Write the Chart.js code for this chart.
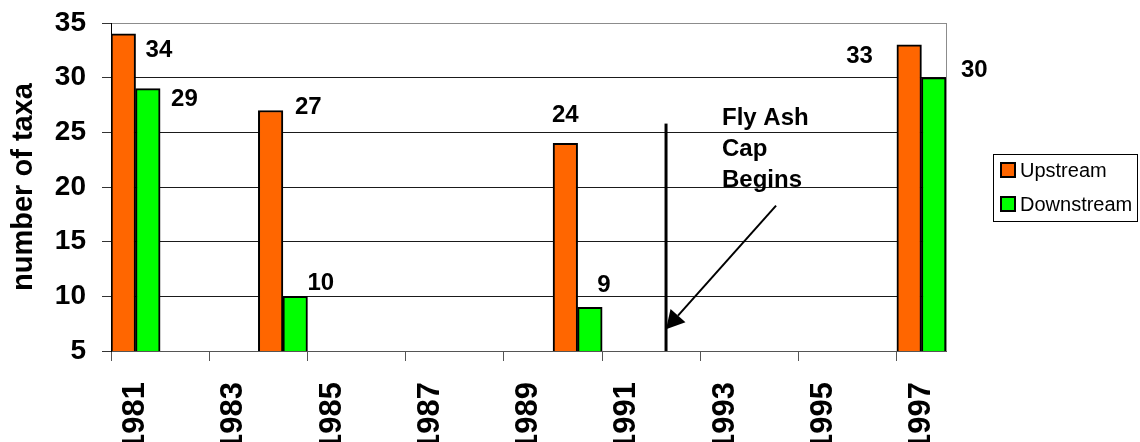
<!DOCTYPE html>
<html>
<head>
<meta charset="utf-8">
<script src="https://cdn.jsdelivr.net/npm/chart.js@4/dist/chart.umd.min.js"></script>
<style>
  html, body { margin: 0; padding: 0; background: #fff; }
  #wrap { width: 1140px; height: 442px; position: relative; }
</style>
</head>
<body>
<div id="wrap"><canvas id="c" width="1140" height="442"></canvas></div>
<script>
// Sampling years (one category per year)
const years = ['1981','1982','1983','1984','1985','1986','1987','1988','1989',
               '1990','1991','1992','1993','1994','1995','1996','1997'];
// Number of taxa found at each station
const upstream   = [34, null, null, 27, null, null, null, null, null, 24, null, null, null, null, null, null, 33];
const downstream = [29, null, null, 10, null, null, null, null, null,  9, null, null, null, null, null, null, 30];
const seriesNames = ['Upstream', 'Downstream'];
const yTicks = [5, 10, 15, 20, 25, 30, 35];

// Fly ash cap annotation (year position, value extent)
const capYear = 1992.3;
const capLineTop = 25.8;
const capText = ['Fly Ash', 'Cap', 'Begins'];

const FONT = '"Liberation Sans", Arial, sans-serif';
const ORANGE = '#FF6600';
const GREEN = '#00FF00';

// Per-label placement relative to its bar: [dx, dy, anchor]
const upLabelPlace = {
  0: [10, 23, 'left'], 3: [12, 4, 'left'], 9: [0, -21, 'center'], 16: [-24, 18, 'rightOfLeft']
};
const downLabelPlace = {
  0: [11, 17, 'left'], 3: [0, -6, 'left'], 9: [-5, -15, 'left'], 16: [15, -1, 'left']
};

// Convert a fractional year into a pixel on the category axis
function yearToPixel(xs, year) {
  const base = Math.floor(year);
  const idx = years.indexOf(String(base));
  const w = xs.getPixelForValue(1) - xs.getPixelForValue(0);
  const left = xs.getPixelForValue(idx) - w / 2;
  return left + (year - base) * w;
}

const decorations = {
  id: 'decorations',
  afterDatasetsDraw(chart) {
    const ctx = chart.ctx;
    const area = chart.chartArea;
    const xs = chart.scales.x, ys = chart.scales.y;

    // Right border of the plot
    ctx.save();
    ctx.strokeStyle = '#8c8c8c';
    ctx.lineWidth = 1;
    ctx.beginPath();
    ctx.moveTo(Math.round(area.right) + 0.5, area.top);
    ctx.lineTo(Math.round(area.right) + 0.5, area.bottom);
    ctx.stroke();
    ctx.restore();

    // Value labels
    ctx.save();
    ctx.fillStyle = '#000';
    ctx.font = 'bold 24px ' + FONT;
    ctx.textBaseline = 'alphabetic';
    const drawLabels = (dsIndex, values, place) => {
      const meta = chart.getDatasetMeta(dsIndex);
      values.forEach((v, i) => {
        if (v === null || !place[i]) return;
        const bar = meta.data[i];
        const half = bar.width / 2;
        const [dx, dy, anchor] = place[i];
        const txt = String(v);
        let x;
        if (anchor === 'center') { ctx.textAlign = 'center'; x = bar.x + dx; }
        else if (anchor === 'rightOfLeft') { ctx.textAlign = 'right'; x = bar.x - half + dx; }
        else { ctx.textAlign = 'left'; x = bar.x + half + dx; }
        ctx.fillText(txt, x, bar.y + dy);
      });
    };
    drawLabels(0, upstream, upLabelPlace);
    drawLabels(1, downstream, downLabelPlace);
    ctx.restore();

    // Fly ash cap line
    const lx = yearToPixel(xs, capYear);
    ctx.save();
    ctx.strokeStyle = '#000';
    ctx.lineWidth = 3;
    ctx.beginPath();
    ctx.moveTo(lx, ys.getPixelForValue(capLineTop));
    ctx.lineTo(lx, area.bottom);
    ctx.stroke();

    // Arrow pointing at the line
    const ax0 = yearToPixel(xs, 1994.54), ay0 = ys.getPixelForValue(18.3);
    const ax1 = lx, ay1 = ys.getPixelForValue(7.0);
    const ang = Math.atan2(ay1 - ay0, ax1 - ax0);
    const headLen = 18, headHalf = 10;
    const bx = ax1 - headLen * Math.cos(ang), by = ay1 - headLen * Math.sin(ang);
    ctx.lineWidth = 2;
    ctx.beginPath();
    ctx.moveTo(ax0, ay0);
    ctx.lineTo(bx, by);
    ctx.stroke();
    ctx.fillStyle = '#000';
    ctx.beginPath();
    ctx.moveTo(ax1, ay1);
    ctx.lineTo(bx + headHalf * Math.sin(ang), by - headHalf * Math.cos(ang));
    ctx.lineTo(bx - headHalf * Math.sin(ang), by + headHalf * Math.cos(ang));
    ctx.closePath();
    ctx.fill();

    // Annotation text
    ctx.font = 'bold 24px ' + FONT;
    ctx.textAlign = 'left';
    ctx.textBaseline = 'alphabetic';
    const tx = yearToPixel(xs, 1993.44);
    const ty0 = ys.getPixelForValue(25.8) + 1;
    capText.forEach((t, i) => ctx.fillText(t, tx, ty0 + i * 31));
    ctx.restore();

    // Legend box
    ctx.save();
    const lgX = 993.5, lgY = 154.5, lgW = 144, lgH = 67;
    ctx.strokeStyle = '#000';
    ctx.lineWidth = 1;
    ctx.strokeRect(lgX, lgY, lgW, lgH);
    const swatchColors = [ORANGE, GREEN];
    ctx.font = '20px ' + FONT;
    ctx.textAlign = 'left';
    ctx.textBaseline = 'middle';
    seriesNames.forEach((name, i) => {
      const sy = 163 + i * 34;
      ctx.fillStyle = swatchColors[i];
      ctx.fillRect(1001, sy, 14, 14);
      ctx.lineWidth = 2;
      ctx.strokeStyle = '#000';
      ctx.strokeRect(1001, sy, 14, 14);
      ctx.fillStyle = '#000';
      ctx.fillText(name, 1020, sy + 8);
    });
    ctx.restore();
  }
};

new Chart(document.getElementById('c'), {
  type: 'bar',
  data: {
    labels: years,
    datasets: [
      { label: seriesNames[0], data: upstream, backgroundColor: ORANGE,
        borderColor: '#000', borderWidth: 2, borderSkipped: false },
      { label: seriesNames[1], data: downstream, backgroundColor: GREEN,
        borderColor: '#000', borderWidth: 2, borderSkipped: false }
    ]
  },
  options: {
    responsive: false,
    animation: false,
    devicePixelRatio: 1,
    layout: { padding: { top: 23, right: 194, bottom: 0, left: 0 } },
    datasets: { bar: { categoryPercentage: 1, barPercentage: 1 } },
    plugins: {
      legend: { display: false },
      tooltip: { enabled: false }
    },
    scales: {
      x: {
        type: 'category',
        offset: true,
        grid: {
          offset: true,
          drawOnChartArea: false,
          tickLength: 10,
          tickWidth: 1,
          tickColor: (c) => (c.index % 2 === 0 && c.index < years.length) ? '#555' : 'rgba(0,0,0,0)'
        },
        border: { color: '#555', width: 1 },
        ticks: {
          autoSkip: false,
          minRotation: 90,
          maxRotation: 90,
          padding: 21,
          color: '#000',
          font: { family: FONT, size: 31, weight: 'bold' },
          callback: (v, i) => (i % 2 === 0 ? years[i] : '')
        },
        afterFit: (s) => { s.height = 91; s.paddingLeft = 0; s.paddingRight = 0; }
      },
      y: {
        min: 5,
        max: 35,
        afterBuildTicks: (s) => { s.ticks = yTicks.map(v => ({ value: v })); },
        grid: {
          color: (c) => c.tick && c.tick.value === 35 ? '#8c8c8c' : (c.tick && c.tick.value === 5 ? 'rgba(0,0,0,0)' : '#1a1a1a'),
          lineWidth: 1,
          tickLength: 9,
          tickColor: '#333'
        },
        border: { color: '#000', width: 1 },
        ticks: {
          padding: 16,
          color: '#000',
          font: { family: FONT, size: 28, weight: 'bold' }
        },
        title: {
          display: true,
          text: 'number of taxa',
          color: '#000',
          font: { family: FONT, size: 29, weight: 'bold' },
          padding: { top: 7, bottom: 0 }
        },
        afterFit: (s) => { s.width = 111; s.paddingTop = 0; s.paddingBottom = 0; }
      }
    }
  },
  plugins: [decorations]
});
</script>
</body>
</html>
